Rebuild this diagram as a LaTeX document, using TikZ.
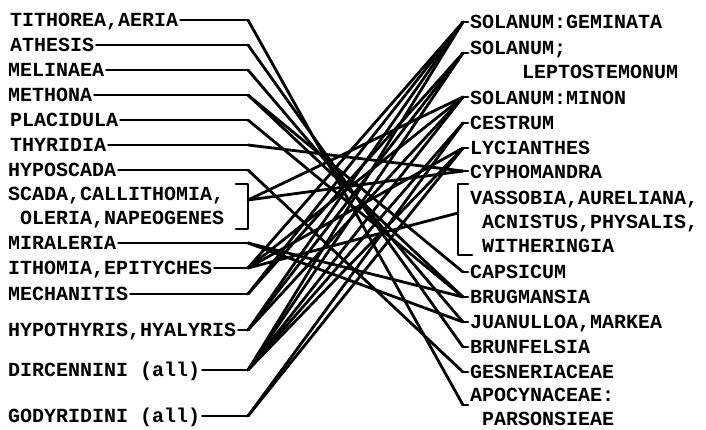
\documentclass[tikz,border=0pt]{standalone}
\usepackage{fontspec}
\setmonofont{Liberation Mono}
\usepackage{tikz}

\begin{document}
\begin{tikzpicture}[x=1pt, y=-1pt, every node/.style={inner sep=2pt, font=\ttfamily\bfseries\fontsize{20}{24}\selectfont},
    lbl/.style={anchor=base west, align=left},
    blk/.style={anchor=north west, align=left},
    link/.style={line width=2.8pt, line cap=round, line join=round}]
\useasboundingbox (0,0) rectangle (706,429);

% butterflies
\node[lbl] (tithorea) at (8,26) {TITHOREA,AERIA};
\node[lbl] (athesis) at (8,51) {ATHESIS};
\node[lbl] (melinaea) at (6,76) {MELINAEA};
\node[lbl] (methona) at (6,101) {METHONA};
\node[lbl] (placidula) at (8,126) {PLACIDULA};
\node[lbl] (thyridia) at (8,151) {THYRIDIA};
\node[lbl] (hyposcada) at (6,176) {HYPOSCADA};
\node[blk] (scada) at (6,185) {SCADA,CALLITHOMIA,\\\hspace*{12pt}OLERIA,NAPEOGENES};
\node[lbl] (miraleria) at (6,249) {MIRALERIA};
\node[lbl] (ithomia) at (6,274) {ITHOMIA,EPITYCHES};
\node[lbl] (mechanitis) at (6,300) {MECHANITIS};
\node[lbl] (hypothyris) at (6,336) {HYPOTHYRIS,HYALYRIS};
\node[lbl] (dircennini) at (6,376) {DIRCENNINI (all)};
\node[lbl] (godyridini) at (6,422) {GODYRIDINI (all)};

\coordinate (tithoreaJ) at (248,20);
\coordinate (athesisJ) at (248,45);
\coordinate (melinaeaJ) at (248,70);
\coordinate (methonaJ) at (248,95);
\coordinate (placidulaJ) at (248,120);
\coordinate (thyridiaJ) at (248,145);
\coordinate (hyposcadaJ) at (248,170);
\coordinate (scadaT) at (248,184);
\coordinate (scadaJ) at (248,200);
\coordinate (scadaB) at (248,229);
\coordinate (miraleriaJ) at (248,243);
\coordinate (ithomiaJ) at (248,268);
\coordinate (mechanitisJ) at (248,294);
\coordinate (hypothyrisJ) at (248,330);
\coordinate (dircenniniJ) at (248,370);
\coordinate (godyridiniJ) at (248,416);

% food plants
\node[lbl] (geminata) at (468,28) {SOLANUM:GEMINATA};
\node[blk] (lepto) at (468,39) {SOLANUM;\\\hspace*{52pt}LEPTOSTEMONUM};
\node[lbl] (minon) at (468,104) {SOLANUM:MINON};
\node[lbl] (cestrum) at (468,129) {CESTRUM};
\node[lbl] (lycianthes) at (468,154) {LYCIANTHES};
\node[lbl] (cyphomandra) at (468,178) {CYPHOMANDRA};
\node[blk] (vassobia) at (468,189) {VASSOBIA,AURELIANA,\\\hspace*{12pt}ACNISTUS,PHYSALIS,\\\hspace*{12pt}WITHERINGIA};
\node[lbl] (capsicum) at (468,278) {CAPSICUM};
\node[lbl] (brugmansia) at (468,303) {BRUGMANSIA};
\node[lbl] (juanulloa) at (468,328) {JUANULLOA,MARKEA};
\node[lbl] (brunfelsia) at (468,353) {BRUNFELSIA};
\node[lbl] (gesner) at (468,378) {GESNERIACEAE};
\node[blk] (apocyn) at (468,386) {APOCYNACEAE:\\\hspace*{12pt}PARSONSIEAE};

\coordinate (geminataJ) at (463,22);
\coordinate (leptoJ) at (463,53);
\coordinate (minonJ) at (463,97);
\coordinate (cestrumJ) at (463,123);
\coordinate (lycianthesJ) at (463,148);
\coordinate (cyphomandraJ) at (463,171);
\coordinate (vassobiaT) at (458,184);
\coordinate (vassobiaJ) at (458,213);
\coordinate (vassobiaB) at (458,255);
\coordinate (capsicumJ) at (463,272);
\coordinate (brugmansiaJ) at (463,297);
\coordinate (juanulloaJ) at (463,322);
\coordinate (brunfelsiaJ) at (463,347);
\coordinate (gesnerJ) at (463,372);
\coordinate (apocynJ) at (463,405);

% leaders
\foreach \n in {tithorea,athesis,melinaea,methona,placidula,thyridia,hyposcada,miraleria,ithomia,mechanitis,hypothyris,dircennini,godyridini}
  \draw[link] (\n.east |- \n J) -- (\n J);
\foreach \n in {geminata,lepto,minon,cestrum,lycianthes,cyphomandra,capsicum,brugmansia,juanulloa,brunfelsia,gesner,apocyn}
  \draw[link] (\n J) -- (\n.west |- \n J);
\draw[link] ([xshift=-12pt]scadaT) -- (scadaT) -- (scadaB) -- ([xshift=-12pt]scadaB);
\draw[link] ([xshift=10pt]vassobiaT) -- (vassobiaT) -- (vassobiaB) -- ([xshift=14pt]vassobiaB);

% associations
\draw[link] (tithoreaJ) -- (apocynJ);
\draw[link] (athesisJ) -- (brunfelsiaJ);
\draw[link] (melinaeaJ) -- (juanulloaJ);
\draw[link] (methonaJ) -- (capsicumJ);
\draw[link] (methonaJ) -- (brugmansiaJ);
\draw[link] (placidulaJ) -- (brugmansiaJ);
\draw[link] (thyridiaJ) -- (cyphomandraJ);
\draw[link] (hyposcadaJ) -- (gesnerJ);
\draw[link] (scadaJ) -- (minonJ);
\draw[link] (scadaJ) -- (cyphomandraJ);
\draw[link] (miraleriaJ) -- (brugmansiaJ);
\draw[link] (miraleriaJ) -- (juanulloaJ);
\draw[link] (ithomiaJ) -- (vassobiaJ);
\draw[link] (ithomiaJ) -- (lycianthesJ);
\draw[link] (ithomiaJ) -- (minonJ);
\draw[link] (ithomiaJ) -- (geminataJ);
\draw[link] (mechanitisJ) -- (leptoJ);
\draw[link] (mechanitisJ) -- (geminataJ);
\draw[link] (hypothyrisJ) -- (leptoJ);
\draw[link] (hypothyrisJ) -- (geminataJ);
\draw[link] (hypothyrisJ) -- (minonJ);
\draw[link] (dircenniniJ) -- (geminataJ);
\draw[link] (dircenniniJ) -- (leptoJ);
\draw[link] (dircenniniJ) -- (minonJ);
\draw[link] (dircenniniJ) -- (cestrumJ);
\draw[link] (dircenniniJ) -- (lycianthesJ);
\draw[link] (godyridiniJ) -- (cestrumJ);
\draw[link] (godyridiniJ) -- (lycianthesJ);
\end{tikzpicture}
\end{document}
